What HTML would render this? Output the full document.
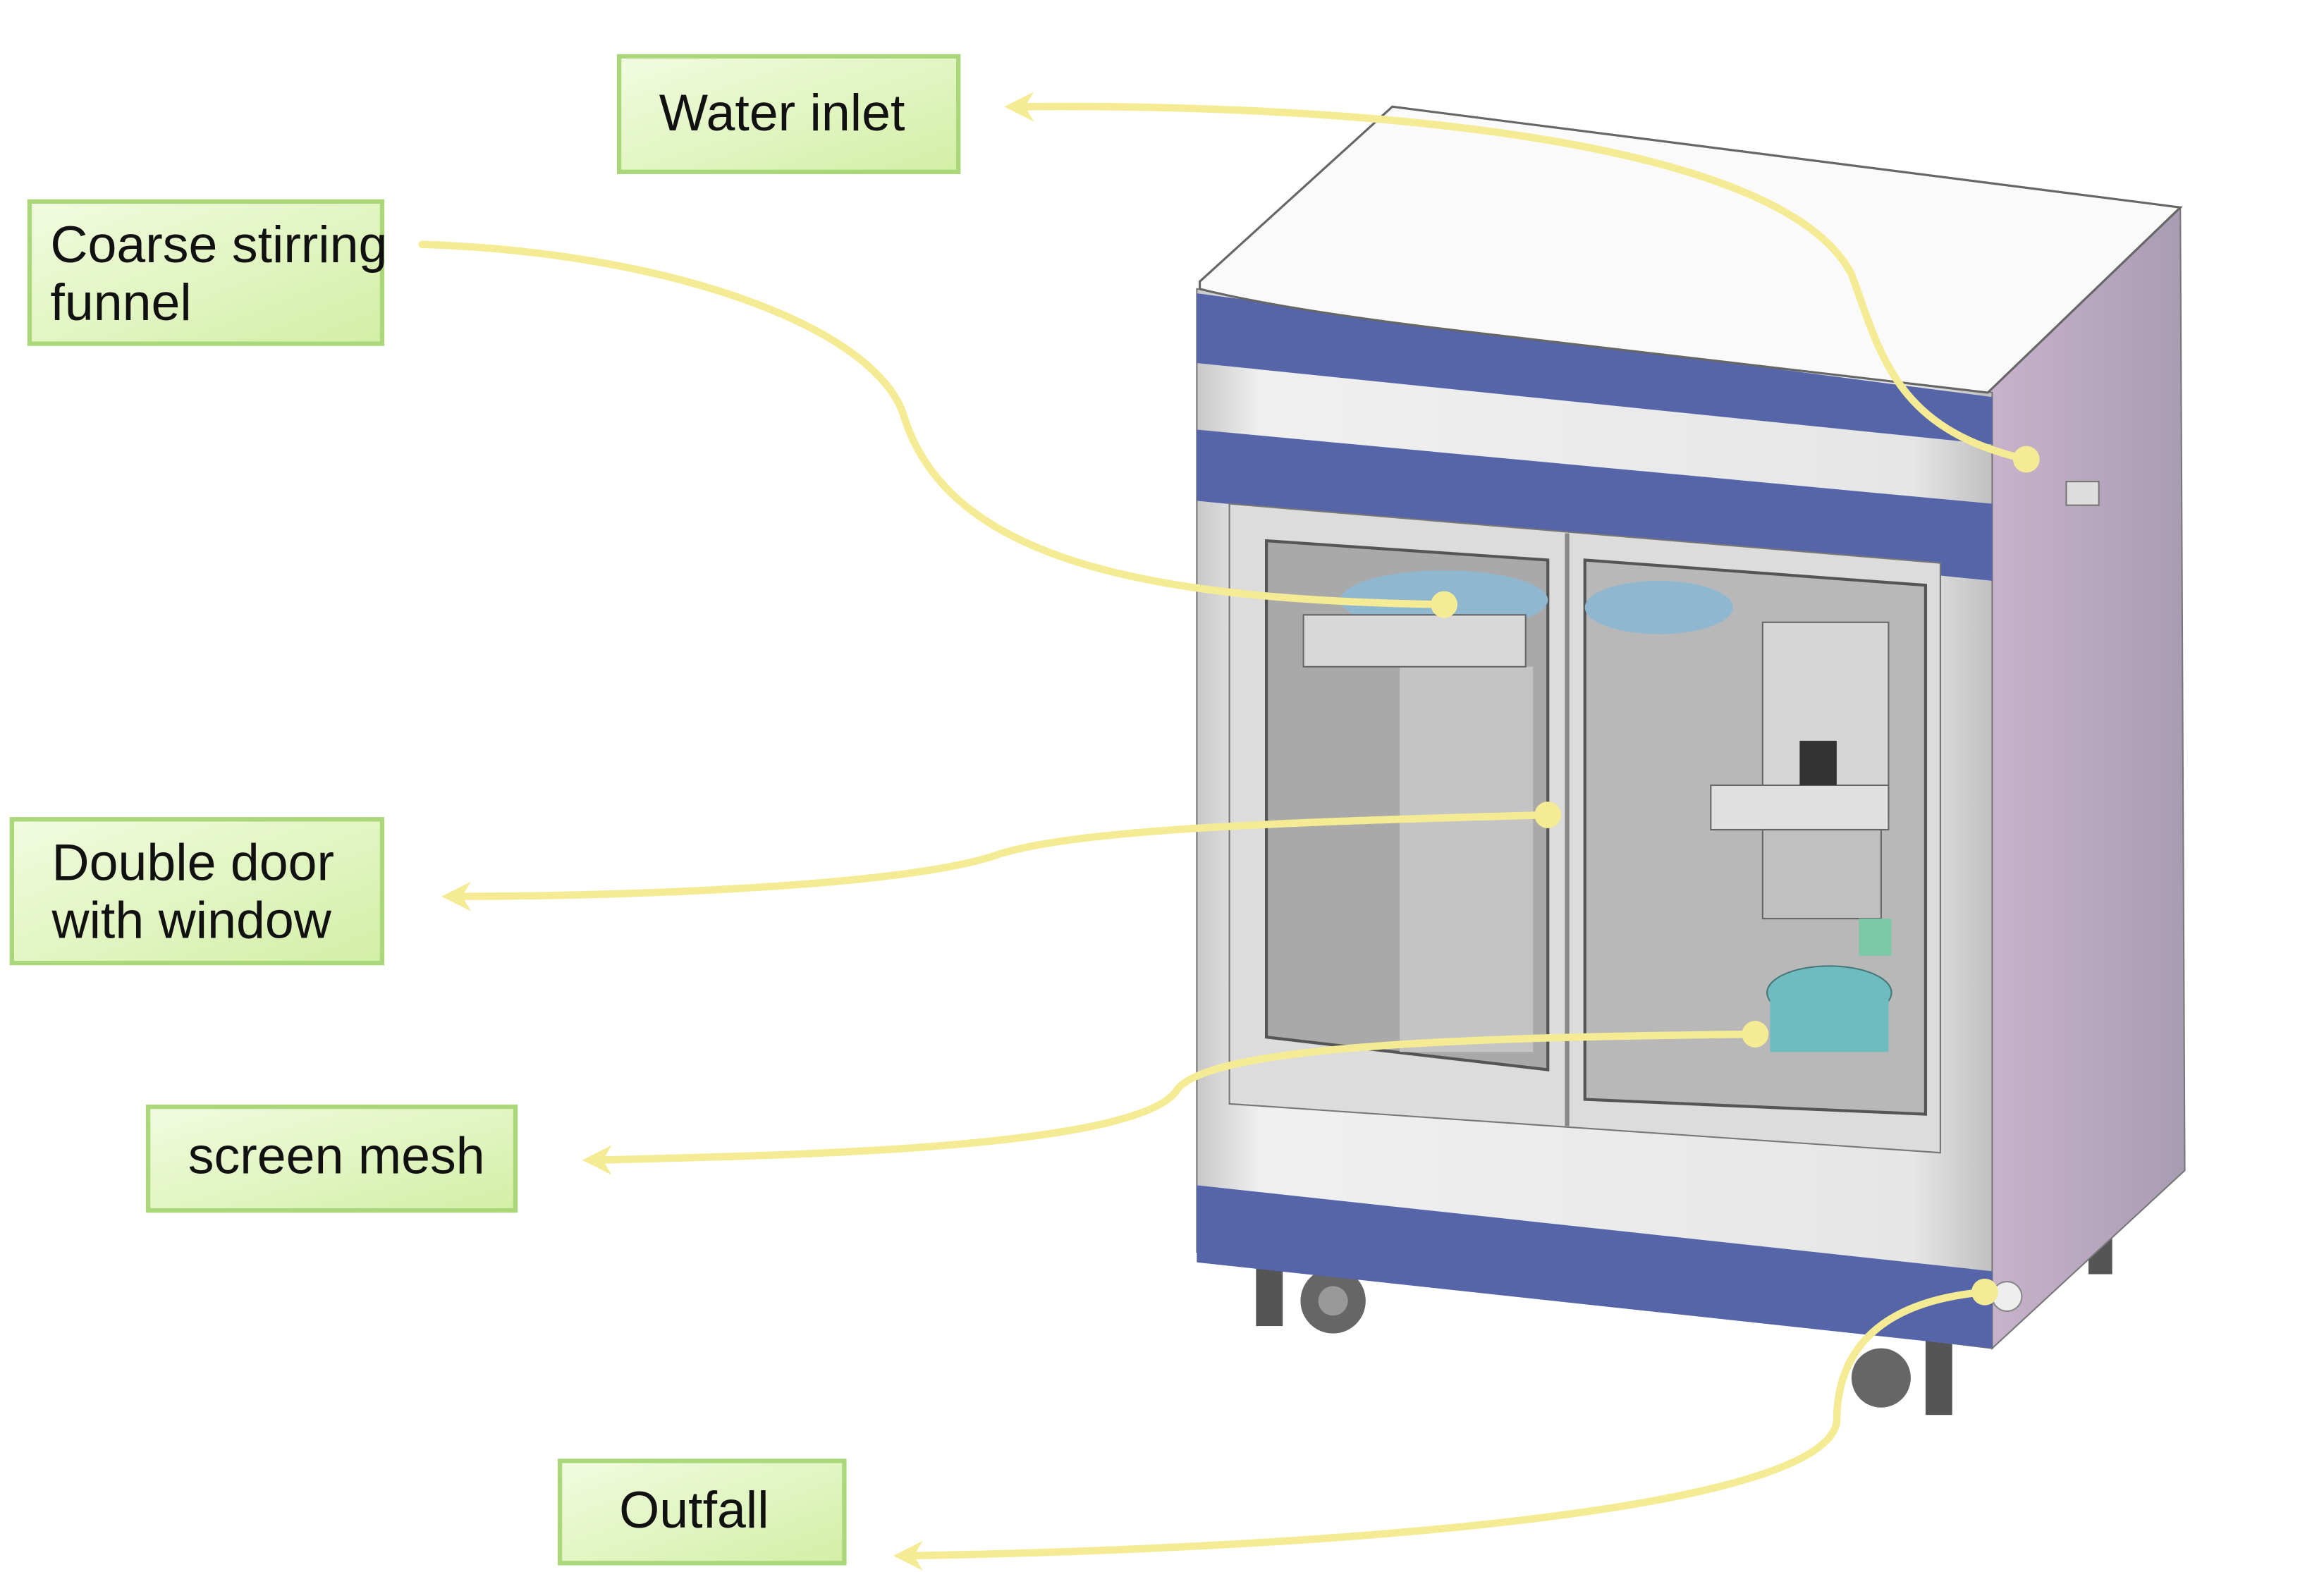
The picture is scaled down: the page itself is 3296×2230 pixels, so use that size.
<!DOCTYPE html>
<html><head><meta charset="utf-8"><style>
html,body{margin:0;padding:0;background:#fff;}
svg{display:block;}
text{font-family:"Liberation Sans","DejaVu Sans",sans-serif;}
</style></head><body>
<svg width="3296" height="2230" viewBox="0 0 1569 1061" preserveAspectRatio="none" xmlns="http://www.w3.org/2000/svg">
<defs>
<linearGradient id="lb" x1="0" y1="0" x2="1" y2="1">
<stop offset="0" stop-color="#f2fbe0"/><stop offset="1" stop-color="#d2efa6"/></linearGradient>
<linearGradient id="side" x1="0" y1="0" x2="1" y2="0">
<stop offset="0" stop-color="#c8b4cc"/><stop offset="1" stop-color="#a89cb2"/></linearGradient>
<linearGradient id="front" x1="0" y1="0" x2="1" y2="0">
<stop offset="0" stop-color="#c8c8c8"/><stop offset="0.08" stop-color="#f0f0f0"/><stop offset="0.9" stop-color="#e6e6e6"/><stop offset="1" stop-color="#c0c0c0"/></linearGradient>
</defs>
<rect width="1569" height="1061" fill="#fff"/>
<g fill="#555">
<rect x="848" y="855" width="18" height="40"/><circle cx="900" cy="878" r="22" fill="#666"/><circle cx="900" cy="878" r="10" fill="#999"/>
<rect x="1300" y="905" width="18" height="50"/><circle cx="1270" cy="930" r="20" fill="#666"/>
<rect x="1410" y="830" width="16" height="30"/>
</g>
<polygon points="1340,265 1472,140 1475,790 1345,910" fill="url(#side)" stroke="#777" stroke-width="1"/>
<rect x="1395" y="325" width="22" height="16" fill="#ddd" stroke="#777"/>
<circle cx="1355" cy="875" r="10" fill="#eee" stroke="#888"/>
<polygon points="808,195 1345,265 1345,910 808,845" fill="url(#front)" stroke="#777"/>
<polygon points="808,198 1345,268 1345,300 808,245" fill="#5565a8"/>
<polygon points="808,290 1345,340 1345,392 808,338" fill="#5565a8"/>
<polygon points="808,800 1345,858 1345,910 808,852" fill="#5565a8"/>
<path d="M810,190 L940,72 L1472,140 L1342,265 Q1200,248 1000,225 Q870,210 810,195 Z" fill="#fafafa" stroke="#666" stroke-width="1.5"/>
<polygon points="830,340 1310,380 1310,778 830,745" fill="#dcdcdc" stroke="#777"/>
<line x1="1058" y1="360" x2="1058" y2="760" stroke="#888" stroke-width="3"/>
<polygon points="855,365 1045,378 1045,722 855,700" fill="#a9a9aa" stroke="#555" stroke-width="2"/>
<polygon points="1070,378 1300,395 1300,752 1070,742" fill="#b8b8b9" stroke="#555" stroke-width="2"/>
<rect x="945" y="450" width="90" height="260" fill="#c4c4c4"/>
<ellipse cx="975" cy="405" rx="70" ry="20" fill="#8fb8d0"/>
<ellipse cx="1120" cy="410" rx="50" ry="18" fill="#8fb8d0"/>
<rect x="880" y="415" width="150" height="35" fill="#d8d8d8" stroke="#666"/>
<rect x="1190" y="420" width="85" height="130" fill="#d6d6d6" stroke="#666"/>
<rect x="1155" y="530" width="120" height="30" fill="#e0e0e0" stroke="#666"/>
<rect x="1215" y="500" width="25" height="30" fill="#333"/>
<rect x="1190" y="560" width="80" height="60" fill="#c0c0c0" stroke="#666"/>
<rect x="1255" y="620" width="22" height="25" fill="#7cc8a8"/>
<ellipse cx="1235" cy="670" rx="42" ry="18" fill="#6fbcc0" stroke="#477"/>
<rect x="1195" y="670" width="80" height="40" fill="#6fbcc0"/>
<g fill="none" stroke="#f5eb95" stroke-width="5" stroke-linecap="round">
<path d="M1368,310 C1280,290 1270,240 1250,185 C1200,90 900,70 690,72"/>
<path d="M285,165 C450,170 590,220 610,280 C640,380 780,405 975,408"/>
<path d="M1045,550 C860,555 720,560 670,578 C600,600 400,605 310,605"/>
<path d="M1185,698 C1000,700 820,705 795,735 C770,778 500,780 405,783"/>
<path d="M1340,872 C1250,880 1240,930 1240,960 C1230,1020 900,1045 615,1050"/>
</g>
<g fill="#f5eb95">
<polygon points="678,72 698,62 692,72 698,82"/>
<polygon points="298,605 318,595 312,605 318,615"/>
<polygon points="393,783 413,773 407,783 413,793"/>
<polygon points="603,1050 623,1040 617,1050 623,1060"/>
<circle cx="1368" cy="310" r="9"/><circle cx="975" cy="408" r="9"/><circle cx="1045" cy="550" r="9"/><circle cx="1185" cy="698" r="9"/><circle cx="1340" cy="872" r="9"/>
</g>
<g fill="url(#lb)" stroke="#a9d77a" stroke-width="3">
<rect x="418" y="38" width="229" height="78"/>
<rect x="20" y="136" width="238" height="96"/>
<rect x="8" y="553" width="250" height="97"/>
<rect x="100" y="747" width="248" height="70"/>
<rect x="378" y="986" width="192" height="69"/>
</g>
<g font-size="35" fill="#111">
<text x="445" y="88">Water inlet</text>
<text x="34" y="177">Coarse stirring</text>
<text x="34" y="216">funnel</text>
<text x="35" y="594">Double door</text>
<text x="35" y="633">with window</text>
<text x="127" y="792">screen mesh</text>
<text x="418" y="1031">Outfall</text>
</g>
</svg>
</body></html>
